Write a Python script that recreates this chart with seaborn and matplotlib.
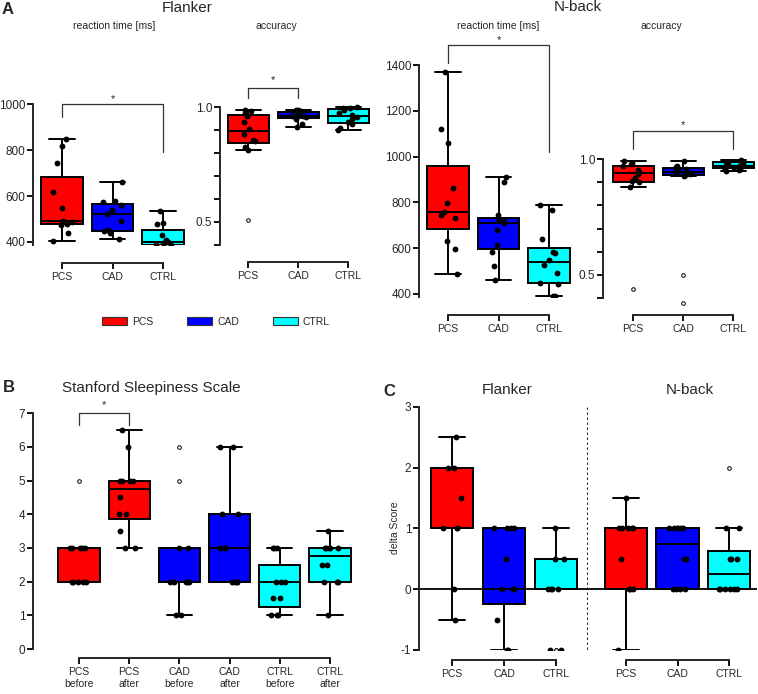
import numpy as np
import pandas as pd
import matplotlib
matplotlib.use("Agg")
import matplotlib.pyplot as plt
from matplotlib.patches import Patch
import seaborn as sns

# ---- data ----
groups = ["PCS", "CAD", "CTRL"]
group_colors = ["#ff0000", "#0000ff", "#00ffff"]

# A: Flanker
flanker_rt = {
    "PCS": [405, 440, 476, 480, 485, 490, 548, 620, 743, 820, 848],
    "CAD": [415, 440, 446, 452, 492, 520, 540, 560, 574, 580, 663],
    "CTRL": [372, 378, 385, 390, 395, 398, 410, 430, 477, 481, 534],
}
flanker_acc = {
    "PCS": [0.812, 0.825, 0.851, 0.857, 0.885, 0.905, 0.935, 0.962, 0.975, 0.985, 0.99],
    "CAD": [0.915, 0.925, 0.948, 0.958, 0.96, 0.964, 0.97, 0.978, 0.984, 0.988, 0.99],
    "CTRL": [0.90, 0.91, 0.925, 0.935, 0.95, 0.958, 0.966, 0.975, 0.99, 0.995, 0.998, 1.0],
}
flanker_acc_out = {"PCS": [0.507]}

# A: N-back
nback_rt = {
    "PCS": [486, 596, 631, 734, 747, 756, 798, 861, 1061, 1122, 1369],
    "CAD": [460, 521, 583, 612, 680, 710, 717, 721, 747, 890, 910],
    "CTRL": [390, 390, 442, 448, 493, 528, 550, 577, 585, 640, 766, 787],
}
nback_acc = {
    "PCS": [0.879, 0.9, 0.905, 0.92, 0.935, 0.945, 0.955, 0.97, 0.978, 0.985, 0.993],
    "CAD": [0.928, 0.932, 0.935, 0.94, 0.948, 0.952, 0.96, 0.966, 0.97, 0.993],
    "CTRL": [0.948, 0.955, 0.96, 0.965, 0.968, 0.971, 0.98, 0.985, 0.99, 0.994, 0.997],
}
nback_acc_out = {"PCS": [0.436], "CAD": [0.50, 0.379]}

# B: Stanford Sleepiness Scale
sss_groups = ["PCS\nbefore", "PCS\nafter", "CAD\nbefore", "CAD\nafter", "CTRL\nbefore", "CTRL\nafter"]
sss_colors = ["#ff0000", "#ff0000", "#0000ff", "#0000ff", "#00ffff", "#00ffff"]
sss = {
    "PCS\nbefore": [2, 2, 2, 2, 2, 3, 3, 3, 3, 3],
    "PCS\nafter": [3, 3, 3.5, 4, 4, 4.5, 5, 5, 5, 5, 6, 6.5],
    "CAD\nbefore": [1, 1, 2, 2, 2, 2, 2, 3, 3],
    "CAD\nafter": [2, 2, 2, 2, 3, 3, 3, 4, 4, 6, 6],
    "CTRL\nbefore": [1, 1, 1, 1.5, 1.5, 2, 2, 2, 3, 3, 3],
    "CTRL\nafter": [1, 2, 2, 2, 2.5, 2.5, 3, 3, 3, 3, 3, 3.5],
}
sss_out = {"PCS\nbefore": [5], "CAD\nbefore": [5, 6]}

# C: delta scores
delta_flanker = {
    "PCS": [-0.5, 0, 1, 1, 1, 1.5, 2, 2, 2.5],
    "CAD": [-1, -1, -0.5, 0, 0, 0, 0.5, 1, 1, 1, 1],
    "CTRL": [-1, -1, 0, 0, 0, 0, 0.5, 0.5, 1],
}
delta_nback = {
    "PCS": [-1, 0, 0, 0, 0.5, 1, 1, 1, 1, 1, 1.5],
    "CAD": [0, 0, 0, 0, 0.5, 0.5, 1, 1, 1, 1, 1, 1],
    "CTRL": [0, 0, 0, 0, 0, 0, 0.5, 0.5, 0.5, 1, 1],
}
delta_nback_out = {"CTRL": [2]}

# ---- style ----
sns.set_style("ticks")
plt.rcParams["font.family"] = ["Liberation Sans", "DejaVu Sans"]
plt.rcParams["axes.unicode_minus"] = False
np.random.seed(7)

W, H = 758, 694
fig = plt.figure(figsize=(W / 100, H / 100), dpi=100)


def long_df(vals, extra=None):
    rows = []
    for g, vs in vals.items():
        rows += [(g, v, True) for v in vs]
        rows += [(g, v, False) for v in (extra or {}).get(g, [])]
    return pd.DataFrame(rows, columns=["group", "value", "dot"])


def draw_boxes(ax, vals, order, colors, extra=None):
    df = long_df(vals, extra)
    sns.boxplot(data=df, x="group", y="value", order=order, hue="group",
                hue_order=order, palette=dict(zip(order, colors)), legend=False,
                saturation=1, width=0.82, linecolor="black", linewidth=1.4,
                whis=1.5, capwidths=0.5,
                flierprops=dict(marker="o", markerfacecolor="white",
                                markeredgecolor="black", markersize=2.6,
                                markeredgewidth=0.7),
                ax=ax)
    sns.stripplot(data=df[df["dot"]], x="group", y="value", order=order,
                  color="black", size=4.2, jitter=0.2, zorder=3, ax=ax)
    ax.set_xlabel("")
    ax.set_ylabel("")


def place(ax, left, right, top, bottom, xcal, ycal):
    # map pixel calibration points of the reference onto data limits
    ax.set_position([left / W, 1 - bottom / H, (right - left) / W, (bottom - top) / H])
    (px0, vx0), (px1, vx1) = xcal
    sx = (vx1 - vx0) / (px1 - px0)
    ax.set_xlim(vx0 + (left - px0) * sx, vx0 + (right - px0) * sx)
    (py0, vy0), (py1, vy1) = ycal
    sy = (vy1 - vy0) / (py1 - py0)
    ax.set_ylim(vy0 + (bottom - py0) * sy, vy0 + (top - py0) * sy)


def prism(ax, n, yticks, ylabels, ytop, xgap, ybot=None, show_y=True):
    for s in ("top", "right"):
        ax.spines[s].set_visible(False)
    for s in ("left", "bottom"):
        ax.spines[s].set_linewidth(1.4)
    ax.spines["bottom"].set_bounds(0, n - 1)
    ax.spines["bottom"].set_position(("outward", xgap * 0.72))
    ax.tick_params(axis="both", width=1.3, length=4, color="black")
    ax.tick_params(axis="x", labelsize=7.5, pad=2.5)
    ax.tick_params(axis="y", labelsize=8.5, pad=1.5)
    if show_y:
        ax.spines["left"].set_bounds(ax.get_ylim()[0] if ybot is None else ybot, ytop)
        ax.set_yticks(yticks)
        ax.set_yticklabels(ylabels)
    else:
        ax.spines["left"].set_visible(False)
        ax.tick_params(axis="y", left=False, labelleft=False)


def bracket(ax, x0, x1, y, yl0, yl1, ystar):
    ax.plot([x0, x0, x1, x1], [yl0, y, y, yl1], color="#333333", lw=0.9, clip_on=False)
    ax.text((x0 + x1) / 2, ystar, "*", ha="center", va="center", fontsize=8, clip_on=False)


def ftext(x, y, s, **kw):
    fig.text(x / W, 1 - y / H, s, **kw)


acc_ticks = [0.4, 0.5, 0.6, 0.7, 0.8, 0.9, 1.0]
acc_labels = ["", "0.5", "", "", "", "", "1.0"]

# A - Flanker reaction time
ax1 = fig.add_axes([0, 0, 1, 1])
draw_boxes(ax1, flanker_rt, groups, group_colors)
place(ax1, 33, 190, 30, 245, ((62, 0), (163, 2)), ((104.3, 1000), (242, 400)))
prism(ax1, 3, [400, 600, 800, 1000], ["400", "600", "800", "1000"], 1000, 18)
bracket(ax1, 0, 2, 1000, 943, 794, 1022)

# A - Flanker accuracy
ax2 = fig.add_axes([0, 0, 1, 1])
draw_boxes(ax2, flanker_acc, groups, group_colors, flanker_acc_out)
place(ax2, 220, 370, 30, 244.6, ((248, 0), (348, 2)), ((107.3, 1.0), (221.7, 0.5)))
prism(ax2, 3, acc_ticks, acc_labels, 1.0, 17.5, ybot=0.4)
bracket(ax2, 0, 1, 1.085, 1.04, 1.04, 1.12)

# A - N-back reaction time
ax3 = fig.add_axes([0, 0, 1, 1])
draw_boxes(ax3, nback_rt, groups, group_colors)
place(ax3, 419, 590, 30, 297, ((448, 0), (549, 2)), ((65, 1400), (294, 400)))
prism(ax3, 3, [400, 600, 800, 1000, 1200, 1400],
      ["400", "600", "800", "1000", "1200", "1400"], 1400, 18)
bracket(ax3, 0, 2, 1487, 1407, 1022, 1507)

# A - N-back accuracy (axes reach below 0.4 so the lowest outlier shows)
ax4 = fig.add_axes([0, 0, 1, 1])
draw_boxes(ax4, nback_acc, groups, group_colors, nback_acc_out)
place(ax4, 603, 758, 30, 306, ((633, 0), (733, 2)), ((159.3, 1.0), (274.7, 0.5)))
prism(ax4, 3, acc_ticks, acc_labels, 1.0, 9, ybot=0.4)
bracket(ax4, 0, 2, 1.123, 1.043, 1.043, 1.15)

# B - Stanford Sleepiness Scale
ax5 = fig.add_axes([0, 0, 1, 1])
draw_boxes(ax5, sss, sss_groups, sss_colors, sss_out)
place(ax5, 33, 370, 395, 649, ((79, 0), (330, 5)), ((413.3, 7), (649, 0)))
prism(ax5, 6, range(0, 8), [str(i) for i in range(0, 8)], 7, 9)
bracket(ax5, 0, 1, 7.0, 6.65, 6.65, 7.23)

# C - delta scores
ax6 = fig.add_axes([0, 0, 1, 1])
draw_boxes(ax6, delta_flanker, groups, group_colors)
place(ax6, 419, 588, 400, 650, ((452, 0), (556, 2)), ((406.7, 3), (650, -1)))
prism(ax6, 3, [-1, 0, 1, 2, 3], ["-1", "0", "1", "2", "3"], 3, 10)
ax6.axhline(0, color="black", lw=1.3, zorder=2.5, clip_on=False)
ax6.vlines(ax6.get_xlim()[1], -1, 3, colors="black", linestyles=(0, (1.5, 1.5)), lw=1.2, clip_on=False)

ax7 = fig.add_axes([0, 0, 1, 1])
draw_boxes(ax7, delta_nback, groups, group_colors, delta_nback_out)
place(ax7, 588, 757, 400, 650, ((626, 0), (729, 2)), ((406.7, 3), (650, -1)))
prism(ax7, 3, [], [], 3, 10, show_y=False)
ax7.axhline(0, color="black", lw=1.3, zorder=2.5)

# ---- titles and panel letters ----
ftext(8, 9, "A", fontsize=12, fontweight="bold", ha="center", va="center")
ftext(187, 8, "Flanker", fontsize=11, ha="center", va="center")
ftext(114, 26, "reaction time [ms]", fontsize=7.5, ha="center", va="center")
ftext(276, 26, "accuracy", fontsize=7.5, ha="center", va="center")
ftext(578, 7, "N-back", fontsize=11, ha="center", va="center")
ftext(498, 26, "reaction time [ms]", fontsize=7.5, ha="center", va="center")
ftext(661, 26, "accuracy", fontsize=7.5, ha="center", va="center")

ftext(9, 388, "B", fontsize=12, fontweight="bold", ha="center", va="center")
ftext(62, 388, "Stanford Sleepiness Scale", fontsize=11, ha="left", va="center")

ftext(389, 391, "C", fontsize=12, fontweight="bold", ha="center", va="center")
ftext(507, 390, "Flanker", fontsize=11, ha="center", va="center")
ftext(690, 390, "N-back", fontsize=11, ha="center", va="center")
ftext(395, 528, "delta Score", fontsize=7.5, rotation=90, ha="center", va="center")

# ---- legend ----
handles = [Patch(facecolor=c, edgecolor="#333333", linewidth=0.8, label=g)
           for g, c in zip(groups, group_colors)]
fig.legend(handles=handles, loc="center", bbox_to_anchor=(216 / W, 1 - 322 / H),
           ncol=3, frameon=False, fontsize=7.5, handlelength=2.4, handleheight=0.8,
           handletextpad=0.5, columnspacing=3.2)

fig.savefig("out.png", dpi=100)
